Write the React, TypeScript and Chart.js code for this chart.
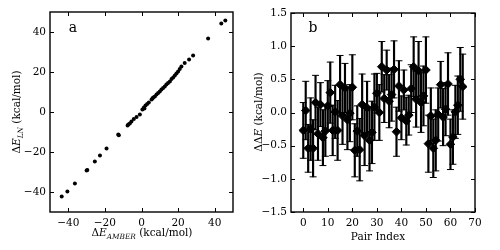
import React, { useEffect, useRef } from "react";
import { Chart, registerables } from "chart.js";
Chart.register(...registerables);

const FONT = '"DejaVu Serif", serif';

// ---------- Panel a data ----------
const amberE = [-43.6, -40.5, -36.4, -30.0, -29.6, -25.5, -22.7, -19.1, -12.7, -12.4, -7.6, -7.2, -6.4, -5.5, -4.2, -2.7, -0.9, 0.5, 1.3, 1.6, 2.2, 3.1, 4.0, 5.5, 6.0, 6.4, 7.3, 8.2, 9.1, 10.0, 10.9, 11.8, 12.7, 13.6, 14.5, 15.5, 16.4, 17.3, 18.2, 19.1, 20.0, 20.9, 21.8, 23.6, 26.0, 28.2, 36.4, 43.6, 45.8];
const lnE = [-42.2, -39.7, -35.8, -29.2, -29.0, -24.7, -21.7, -18.2, -11.2, -11.6, -6.8, -6.3, -5.8, -4.7, -3.5, -2.5, -1.3, 1.2, 2.3, 1.8, 3.2, 4.0, 4.8, 6.2, 6.8, 7.3, 7.8, 8.7, 9.5, 10.3, 11.2, 12.0, 12.8, 13.7, 14.5, 15.3, 16.5, 17.3, 18.2, 19.2, 20.3, 21.5, 22.8, 24.5, 26.2, 28.2, 36.7, 44.2, 45.8];
const aTicks = [-40, -20, 0, 20, 40];

// ---------- Panel b data ----------
const pairIndex = [0, 1, 2, 3, 4, 5, 6, 7, 8, 9, 10, 11, 12, 13, 14, 15, 16, 17, 18, 19, 20, 21, 22, 23, 24, 25, 26, 27, 28, 29, 30, 31, 32, 33, 34, 35, 36, 37, 38, 39, 40, 41, 42, 43, 44, 45, 46, 47, 48, 49, 50, 51, 52, 53, 54, 55, 56, 57, 58, 59, 60, 61, 62, 63, 64, 65];
const ddE = [-0.27, 0.03, -0.54, -0.25, -0.54, 0.15, -0.32, 0.12, -0.38, -0.28, 0.1, 0.3, -0.27, 0.01, -0.27, 0.42, -0.05, 0.37, -0.11, -0.01, 0.38, -0.57, -0.28, -0.56, 0.12, -0.35, 0.07, -0.42, -0.3, 0.08, 0.29, 0.0, 0.69, 0.21, 0.64, 0.17, 0.27, 0.65, -0.29, 0.4, -0.08, 0.34, -0.13, -0.04, 0.36, 0.69, 0.2, 0.63, 0.15, 0.25, 0.64, -0.47, -0.05, -0.54, -0.42, -0.03, 0.42, -0.07, 0.05, 0.43, -0.48, -0.37, 0.01, 0.11, 0.5, 0.39];
const ddEErr = [0.42, 0.44, 0.36, 0.47, 0.43, 0.41, 0.4, 0.33, 0.42, 0.38, 0.38, 0.46, 0.38, 0.4, 0.45, 0.44, 0.43, 0.37, 0.45, 0.43, 0.49, 0.4, 0.38, 0.47, 0.46, 0.45, 0.4, 0.46, 0.47, 0.5, 0.3, 0.42, 0.38, 0.36, 0.3, 0.4, 0.4, 0.43, 0.37, 0.38, 0.33, 0.3, 0.36, 0.3, 0.36, 0.45, 0.42, 0.44, 0.45, 0.45, 0.5, 0.43, 0.42, 0.44, 0.46, 0.4, 0.35, 0.43, 0.4, 0.47, 0.38, 0.41, 0.4, 0.44, 0.48, 0.49];
const bXTicks = [0, 10, 20, 30, 40, 50, 60, 70];
const bYTicks = [-1.5, -1.0, -0.5, 0.0, 0.5, 1.0, 1.5];

type Part = { t: string; i?: boolean; sub?: boolean };

function drawMath(ctx: CanvasRenderingContext2D, parts: Part[], cx: number, cy: number, rot: number, size: number) {
  ctx.save();
  ctx.translate(cx, cy);
  ctx.rotate(rot);
  ctx.fillStyle = "#000";
  ctx.textBaseline = "alphabetic";
  ctx.textAlign = "left";
  const fontOf = (p: Part) => `${p.i ? "italic " : ""}${p.sub ? size * 0.7 : size}px ${FONT}`;
  let total = 0;
  const widths = parts.map((p) => {
    ctx.font = fontOf(p);
    const w = ctx.measureText(p.t).width;
    total += w;
    return w;
  });
  let x = -total / 2;
  parts.forEach((p, k) => {
    ctx.font = fontOf(p);
    ctx.fillText(p.t, x, size * 0.36 + (p.sub ? size * 0.3 : 0));
    x += widths[k];
  });
  ctx.restore();
}

function decor(opts: { letter: string; lx: number; ly: number; xl: Part[]; xlx: number; xly: number; yl: Part[]; ylx: number; yly: number }) {
  return {
    id: "decor",
    afterDraw(chart: any) {
      const ctx: CanvasRenderingContext2D = chart.ctx;
      const a = chart.chartArea;
      ctx.save();
      ctx.strokeStyle = "#000";
      ctx.lineWidth = 1;
      const xs = chart.scales.x;
      const ys = chart.scales.y;
      const TL = 4;
      ctx.beginPath();
      xs.ticks.forEach((t: any) => {
        const px = Math.round(xs.getPixelForValue(t.value)) + 0.5;
        ctx.moveTo(px, a.bottom);
        ctx.lineTo(px, a.bottom - TL);
        ctx.moveTo(px, a.top);
        ctx.lineTo(px, a.top + TL);
      });
      ys.ticks.forEach((t: any) => {
        const py = Math.round(ys.getPixelForValue(t.value)) + 0.5;
        ctx.moveTo(a.left, py);
        ctx.lineTo(a.left + TL, py);
        ctx.moveTo(a.right, py);
        ctx.lineTo(a.right - TL, py);
      });
      ctx.stroke();
      ctx.lineWidth = 1.4;
      ctx.strokeRect(a.left, a.top, a.right - a.left, a.bottom - a.top);
      ctx.fillStyle = "#000";
      ctx.font = `14px ${FONT}`;
      ctx.textAlign = "center";
      ctx.textBaseline = "middle";
      ctx.fillText(opts.letter, opts.lx, opts.ly);
      ctx.restore();
      drawMath(ctx, opts.xl, opts.xlx, opts.xly, 0, 10.5);
      drawMath(ctx, opts.yl, opts.ylx, opts.yly, -Math.PI / 2, 10.5);
    },
  };
}

const fmtInt = (v: any) => String(v).replace("-", "\u2212");
const fmt1 = (v: any) => Number(v).toFixed(1).replace("-", "\u2212");

function axis(min: number, max: number, ticks: number[], fmt: (v: any) => string, fitKey: "width" | "height", fitVal: number, pad: number) {
  return {
    type: "linear",
    min,
    max,
    offset: false,
    afterBuildTicks: (s: any) => {
      s.ticks = ticks.map((v) => ({ value: v }));
    },
    afterFit: (s: any) => {
      s[fitKey] = fitVal;
    },
    grid: { display: false, drawTicks: false },
    border: { display: false },
    ticks: { font: { family: FONT, size: 10.5 }, color: "#000", padding: pad, maxRotation: 0, autoSkip: false, callback: fmt },
  };
}

export default function App() {
  const refA = useRef<HTMLCanvasElement>(null);
  const refB = useRef<HTMLCanvasElement>(null);

  useEffect(() => {
    const chartA = new Chart(refA.current!, {
      type: "scatter",
      data: {
        datasets: [
          {
            data: amberE.map((x, i) => ({ x, y: lnE[i] })),
            pointRadius: 2,
            pointBorderWidth: 0,
            backgroundColor: "#000",
            borderColor: "#000",
          },
        ],
      },
      options: {
        animation: false,
        responsive: false,
        events: [],
        layout: { padding: { top: 12, right: 17, left: 0, bottom: 0 } },
        plugins: { legend: { display: false }, tooltip: { enabled: false } },
        scales: {
          x: axis(-50, 50, aTicks, fmtInt, "height", 38, 5) as any,
          y: axis(-50, 50, aTicks, fmtInt, "width", 50, 4) as any,
        },
      },
      plugins: [
        decor({
          letter: "a",
          lx: 73,
          ly: 28,
          xl: [{ t: "\u0394" }, { t: "E", i: true }, { t: "AMBER", i: true, sub: true }, { t: " (kcal/mol)" }],
          xlx: 142,
          xly: 232,
          yl: [{ t: "\u0394" }, { t: "E", i: true }, { t: "LN", i: true, sub: true }, { t: " (kcal/mol)" }],
          ylx: 16,
          yly: 112,
        }),
      ],
    });

    const chartB = new Chart(refB.current!, {
      type: "scatter",
      data: {
        datasets: [
          {
            type: "scatter",
            order: 0,
            data: pairIndex.map((x, i) => ({ x, y: ddE[i] })),
            pointStyle: "rectRot",
            pointRadius: 4.3,
            pointBorderWidth: 1,
            backgroundColor: "#000",
            borderColor: "#000",
          },
          {
            type: "scatter",
            order: 1,
            data: pairIndex.flatMap((x, i) => [
              { x, y: ddE[i] - ddEErr[i] },
              { x, y: ddE[i] + ddEErr[i] },
            ]),
            pointStyle: "line",
            pointRadius: 3.5,
            pointBorderWidth: 1,
            borderColor: "#000",
            backgroundColor: "#000",
          },
          {
            type: "bar",
            order: 2,
            data: pairIndex.map((x, i) => ({ x, y: [ddE[i] - ddEErr[i], ddE[i] + ddEErr[i]] })),
            barThickness: 1.5,
            borderWidth: 0,
            backgroundColor: "#000",
          } as any,
        ],
      },
      options: {
        animation: false,
        responsive: false,
        events: [],
        layout: { padding: { top: 13, right: 25, left: 0, bottom: 0 } },
        plugins: { legend: { display: false }, tooltip: { enabled: false } },
        scales: {
          x: axis(-5, 70, bXTicks, fmtInt, "height", 38, 5) as any,
          y: axis(-1.5, 1.5, bYTicks, fmt1, "width", 41, 4) as any,
        },
      },
      plugins: [
        decor({
          letter: "b",
          lx: 63,
          ly: 28,
          xl: [{ t: "Pair Index" }],
          xlx: 128,
          xly: 236,
          yl: [{ t: "\u0394\u0394" }, { t: "E", i: true }, { t: " (kcal/mol)" }],
          ylx: 8,
          yly: 112,
        }),
      ],
    });

    return () => {
      chartA.destroy();
      chartB.destroy();
    };
  }, []);

  return (
    <div style={{ position: "absolute", left: 0, top: 0, width: 500, height: 250, background: "#fff" }}>
      <canvas ref={refA} width={250} height={250} style={{ position: "absolute", left: 0, top: 0, width: 250, height: 250 }} />
      <canvas ref={refB} width={250} height={250} style={{ position: "absolute", left: 250, top: 0, width: 250, height: 250 }} />
    </div>
  );
}
